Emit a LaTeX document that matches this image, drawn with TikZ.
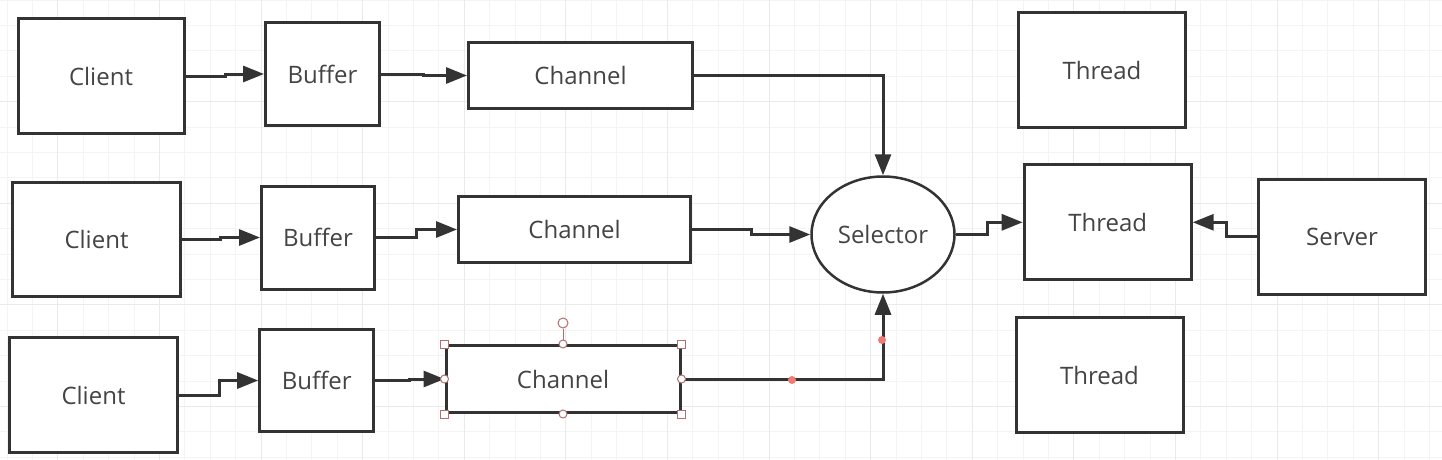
\documentclass[tikz,border=0pt]{standalone}
\usepackage{fontspec}
\setmainfont{Open Sans}
\usetikzlibrary{arrows.meta,shapes.geometric}
\definecolor{lineGray}{HTML}{333333}
\definecolor{textGray}{HTML}{444444}
\definecolor{gridMinor}{HTML}{F4F4F4}
\definecolor{gridMajor}{HTML}{EAEAEA}
\definecolor{handleRed}{HTML}{B07070}
\definecolor{dotRed}{HTML}{EE7B74}

\begin{document}
\begin{tikzpicture}[x=1pt, y=-1pt,
    box/.style={draw=lineGray, line width=3pt, fill=white, text=textGray,
      font=\fontsize{24}{28}\selectfont, inner sep=0pt},
    conn/.style={draw=lineGray, line width=3pt, -{Triangle[length=21pt,width=16pt]}},
    sqhandle/.style={draw=handleRed, fill=white, line width=1pt, minimum size=8pt, inner sep=0pt},
    rdhandle/.style={draw=handleRed, fill=white, line width=1pt, circle, minimum size=8pt, inner sep=0pt},
    waypoint/.style={fill=dotRed, circle, minimum size=8pt, inner sep=0pt}]
        \useasboundingbox (0,0) rectangle (1442,460);
        \fill[white] (0,0) rectangle (1442,460);
        % grid
        \foreach \i in {0,...,56}
          \draw[gridMinor, line width=1pt] ({7+25.4*\i},0) -- ({7+25.4*\i},460);
        \foreach \j in {0,...,18}
          \draw[gridMinor, line width=1pt] (0,{0.1+25.4*\j}) -- (1442,{0.1+25.4*\j});
        \foreach \i in {0,...,13}
          \draw[gridMajor, line width=1pt] ({57.8+101.6*\i},0) -- ({57.8+101.6*\i},460);
        \foreach \j in {1,...,4}
          \draw[gridMajor, line width=1pt] (0,{0.1+101.6*\j}) -- (1442,{0.1+101.6*\j});

        % clients, buffers, channels
        \node[box, minimum width=166pt, minimum height=115pt] (client1) at (101,76) {Client};
        \node[box, minimum width=114pt, minimum height=103pt] (buffer1) at (322.5,74) {Buffer};
        \node[box, minimum width=224pt, minimum height=66pt] (channel1) at (580.5,75.5) {Channel};
        \node[box, minimum width=168pt, minimum height=114pt] (client2) at (96.5,239.5) {Client};
        \node[box, minimum width=113pt, minimum height=103pt] (buffer2) at (318,237.5) {Buffer};
        \node[box, minimum width=232pt, minimum height=66pt] (channel2) at (574.5,229.5) {Channel};
        \node[box, minimum width=168pt, minimum height=115pt] (client3) at (93.5,395) {Client};
        \node[box, minimum width=114pt, minimum height=102pt] (buffer3) at (316.7,380.5) {Buffer};
        \node[box, minimum width=234pt, minimum height=67pt] (channel3) at (563,379) {Channel};

        % selector, threads, server
        \node[box, ellipse, line width=2.5pt, minimum width=143pt, minimum height=116pt] (selector) at (883,234.5) {Selector};
        \node[box, minimum width=167pt, minimum height=115pt] (thread1) at (1102,70) {Thread};
        \node[box, minimum width=167pt, minimum height=115pt] (thread2) at (1107.7,222.3) {Thread};
        \node[box, minimum width=167pt, minimum height=115pt] (thread3) at (1099.5,375) {Thread};
        \node[box, minimum width=167pt, minimum height=115pt] (server) at (1342,236.7) {Server};

        % connectors
        \draw[conn] (client1.east) -- ++(40,0) |- (buffer1.west);
        \draw[conn] (buffer1.east) -- ++(42,0) |- (channel1.west);
        \draw[conn] (client2.east) -- ++(38,0) |- (buffer2.west);
        \draw[conn] (buffer2.east) -- ++(40,0) |- (channel2.west);
        \draw[conn] (client3.east) -- ++(40,0) |- (buffer3.west);
        \draw[conn] (buffer3.east) -- ++(34,0) |- (channel3.west);
        \draw[conn] (channel1.east) -| (selector.north);
        \draw[conn] (channel2.east) -- ++(59,0) |- (selector.west);
        \draw[conn] (channel3.east) -| (selector.south);
        \draw[conn] (selector.east) -- ++(32,0) |- (thread2.west);
        \draw[conn] (server.west) -- ++(-31,0) |- (thread2.east);

        % selection handles on the third channel
        \node[rdhandle, minimum size=10pt] (rot) at (563,323) {};
        \draw[handleRed, line width=1pt] (rot) -- (channel3.north);
        \node[sqhandle] (hnw) at (channel3.north west) {};
        \node[sqhandle] (hne) at (channel3.north east) {};
        \node[sqhandle] (hsw) at (channel3.south west) {};
        \node[sqhandle] (hse) at (channel3.south east) {};
        \node[rdhandle] (hn) at (channel3.north) {};
        \node[rdhandle] (hs) at (channel3.south) {};
        \node[rdhandle] (hw) at (channel3.west) {};
        \node[rdhandle] (he) at (channel3.east) {};
        \node[waypoint] (wp1) at (792,380) {};
        \node[waypoint] (wp2) at (882,340) {};
      \end{tikzpicture}
\end{document}
